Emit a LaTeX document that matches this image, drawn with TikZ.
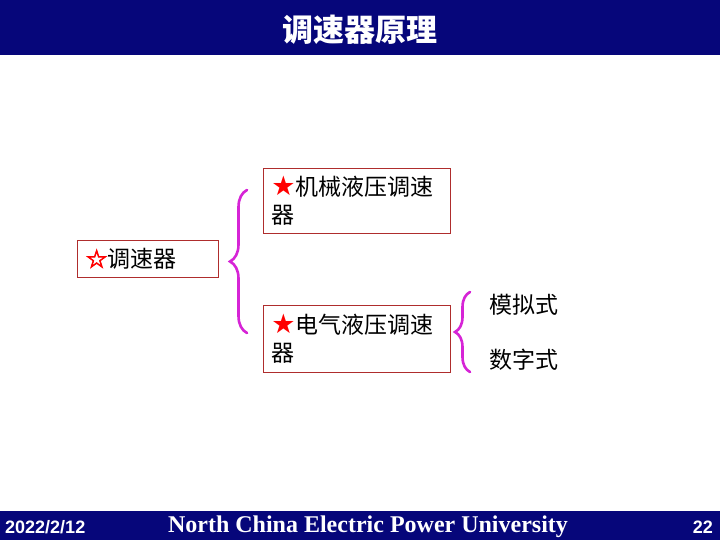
\documentclass[tikz,border=0pt]{standalone}
\usepackage{fontspec}
\setmainfont{Liberation Serif}
\newfontfamily\cjk{Noto Sans CJK SC}
\newfontfamily\symb{DejaVu Sans}
\newfontfamily\symbheavy[FakeBold=3]{DejaVu Sans}
\newfontfamily\arialfont{Liberation Sans}
\usetikzlibrary{decorations.pathreplacing}

\definecolor{bandblue}{RGB}{6,6,122}
\definecolor{boxred}{RGB}{175,45,45}
\definecolor{bracemag}{RGB}{214,36,214}
\newcommand{\redstar}{\textcolor{red}{\symb\fontsize{27}{28}\selectfont ★}}
\newcommand{\redhollow}{\textcolor{red}{\symbheavy\fontsize{25}{28}\selectfont ☆}}

\begin{document}
\begin{tikzpicture}[x=1pt, y=-1pt,
    box/.style={draw=boxred, line width=0.9pt, anchor=north west, align=left,
      inner xsep=8pt, inner ysep=0pt, font={\cjk\fontsize{23}{28}\selectfont}},
    branch/.style={font={\cjk\fontsize{23}{28}\selectfont}, anchor=west},
    curly/.style={draw=bracemag, line width=2.6pt, line cap=round, decorate},
    bandtext/.style={text=white, inner sep=0pt}]
      % Page and bands:
      \useasboundingbox (0,0) rectangle (720,540);
      \fill[white] (0,0) rectangle (720,540);
      \fill[bandblue] (0,0) rectangle (720,55);
      \fill[bandblue] (0,511) rectangle (720,540);
      \node[bandtext, font={\cjk\bfseries\fontsize{31}{31}\selectfont}] (title) at (360,30){调速器原理};
      \node[bandtext, anchor=west, font={\arialfont\bfseries\fontsize{18}{18}\selectfont}] (date) at (5,527){2022/2/12};
      \node[bandtext, font={\bfseries\fontsize{24}{24}\selectfont}] (school) at (368,527){North China Electric Power University};
      \node[bandtext, anchor=east, font={\arialfont\bfseries\fontsize{18}{18}\selectfont}] (page) at (713,527){22};
      % Boxes:
      \node[box, minimum width=141pt, minimum height=37pt, text width=125pt] (gov) at (77,240){\redhollow 调速器};
      \node[box, minimum width=187pt, minimum height=65pt, text width=171pt] (mech) at (263,168){\redstar 机械液压调速\\器};
      \node[box, minimum width=187pt, minimum height=67pt, text width=171pt] (elec) at (263,305){\redstar 电气液压调速\\器};
      \node[branch] (analog) at (486,305){模拟式};
      \node[branch] (digital) at (486,360){数字式};
      % Braces:
      \coordinate (gtop) at (247,190);
      \coordinate (gbot) at (247,333);
      \coordinate (etop) at (470,292);
      \coordinate (ebot) at (470,372);
      \draw[curly, decoration={brace, amplitude=17pt, aspect=0.5}] (gbot) -- (gtop);
      \draw[curly, decoration={brace, amplitude=15pt, aspect=0.5}] (ebot) -- (etop);
    \end{tikzpicture}
\end{document}
